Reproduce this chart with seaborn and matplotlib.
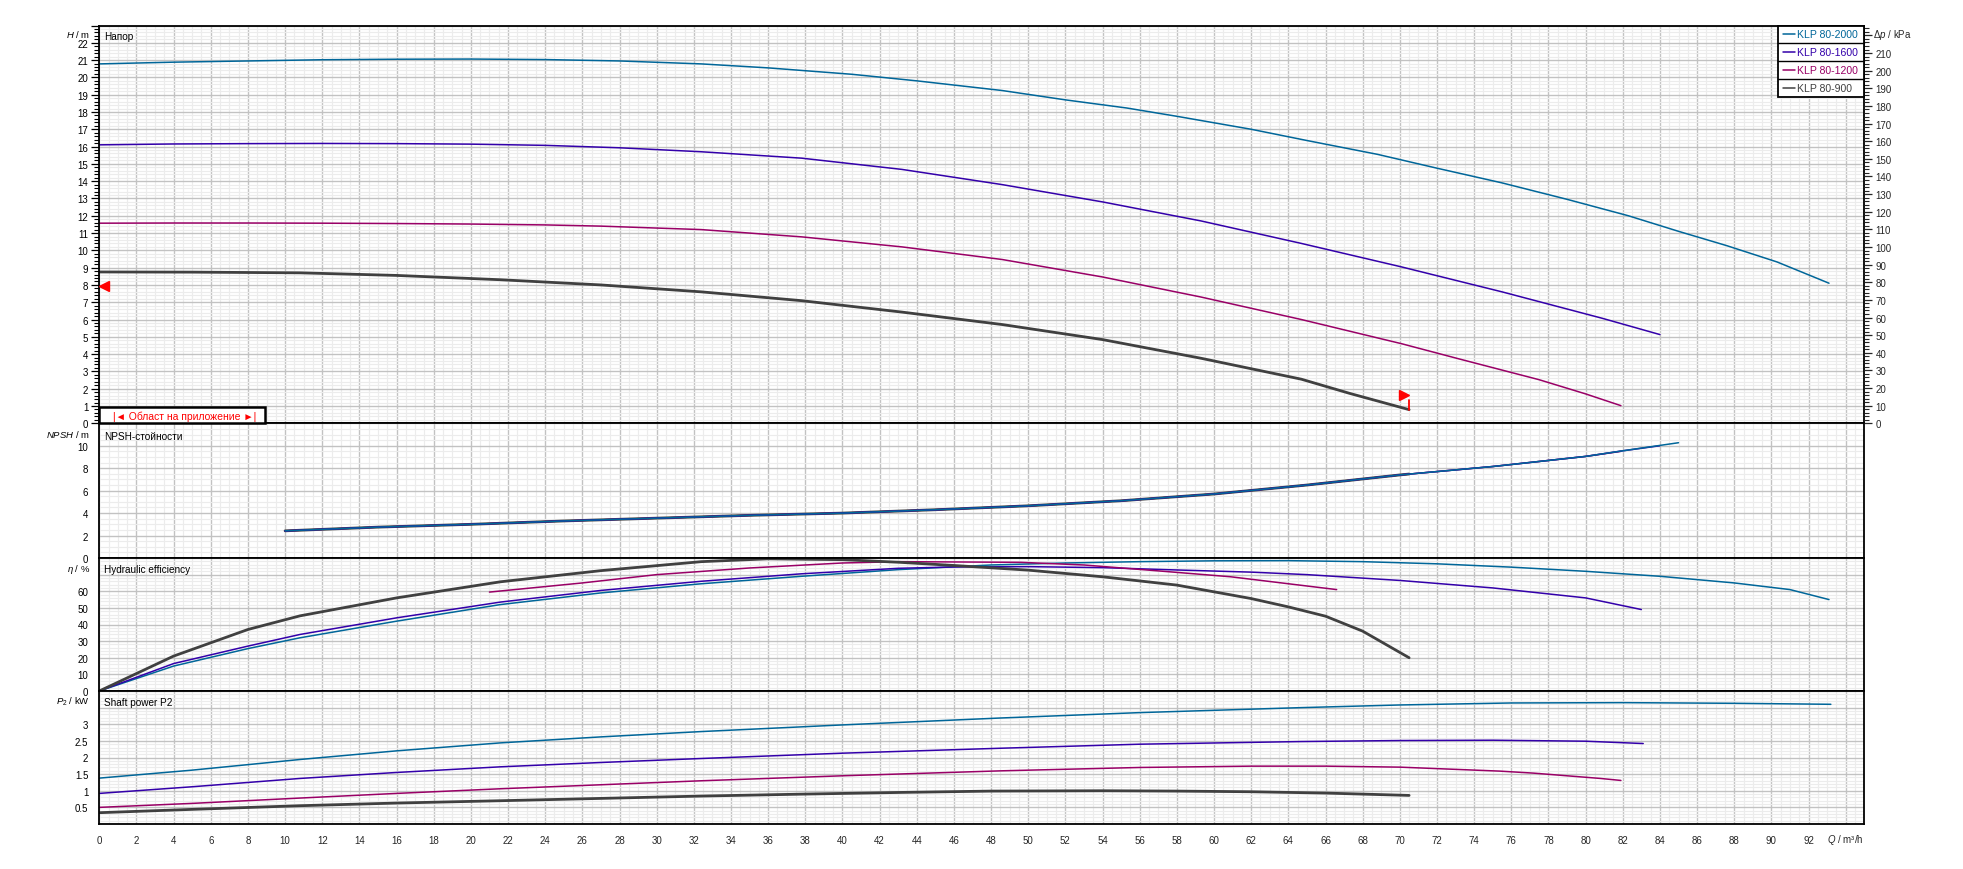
import numpy as np
import matplotlib
matplotlib.use("Agg")
import matplotlib.pyplot as plt
import seaborn as sns
from matplotlib.ticker import MultipleLocator, FuncFormatter
from matplotlib.patches import Rectangle
from matplotlib.lines import Line2D

sns.set_style("white")
plt.rcParams['font.family'] = ['Liberation Sans', 'DejaVu Sans']
plt.rcParams['mathtext.fontset'] = 'custom'
plt.rcParams['mathtext.it'] = 'Liberation Sans:italic'
plt.rcParams['mathtext.rm'] = 'Liberation Sans'

# ---------------- data ----------------
models = ["KLP 80-2000", "KLP 80-1600", "KLP 80-1200", "KLP 80-900"]
colors = ["#006699", "#3300AA", "#990066", "#404040"]
line_w = [1.1, 1.1, 1.1, 2.0]

# Head H [m]
head_q_2000 = [0, 4, 8, 12, 16, 20, 24, 28, 32.4, 36, 40.5, 44, 48.6, 52, 55.3, 58, 62, 65, 68.8, 72, 75.5, 79, 82.3, 85, 87.6, 90.3, 93.1]
head_h_2000 = [20.78, 20.88, 20.95, 21.02, 21.05, 21.06, 21.03, 20.95, 20.78, 20.55, 20.18, 19.8, 19.24, 18.7, 18.23, 17.75, 17.0, 16.35, 15.55, 14.75, 13.9, 12.95, 12.0, 11.1, 10.27, 9.33, 8.1]
head_q_1600 = [0, 4, 8, 12, 16, 20, 24, 28, 32.4, 37.8, 43.2, 48.6, 54, 59.3, 64.7, 70.1, 75.5, 80.9, 84]
head_h_1600 = [16.1, 16.15, 16.17, 16.18, 16.17, 16.14, 16.07, 15.93, 15.7, 15.33, 14.68, 13.8, 12.8, 11.7, 10.4, 9.04, 7.6, 6.07, 5.13]
head_q_1200 = [0, 4, 8, 12, 16, 20, 24, 27, 32.4, 37.8, 43.2, 48.6, 54, 59.3, 64.7, 70.1, 73.2, 77.5, 80, 81.9]
head_h_1200 = [11.57, 11.58, 11.58, 11.57, 11.55, 11.52, 11.47, 11.4, 11.2, 10.78, 10.2, 9.47, 8.46, 7.3, 6.0, 4.6, 3.72, 2.52, 1.7, 1.02]
head_q_900 = [0, 5, 10.8, 16, 21.6, 27, 32.4, 37.8, 43.2, 48.6, 54, 59.3, 64.7, 67.3, 70.5]
head_h_900 = [8.75, 8.74, 8.7, 8.55, 8.3, 8.0, 7.6, 7.09, 6.43, 5.71, 4.84, 3.76, 2.55, 1.73, 0.79]

# NPSH [m]
npsh_q_2000 = [10, 15, 20, 25, 30, 35, 40, 45, 50, 55, 60, 65, 70, 75, 80, 82, 85]
npsh_v_2000 = [2.42, 2.75, 3.0, 3.3, 3.55, 3.8, 4.0, 4.3, 4.65, 5.1, 5.7, 6.5, 7.4, 8.15, 9.05, 9.55, 10.27]
npsh_q_1600 = [10, 15, 20, 25, 30, 35, 40, 45, 50, 55, 60, 65, 70, 75, 80, 82, 84]
npsh_v_1600 = [2.42, 2.75, 3.0, 3.3, 3.55, 3.8, 4.0, 4.3, 4.65, 5.1, 5.7, 6.5, 7.4, 8.15, 9.05, 9.55, 10.0]
npsh_q_1200 = [10, 15, 20, 25, 30, 35, 40, 45, 50, 55, 60, 65, 70, 75, 80, 81.9]
npsh_v_1200 = [2.42, 2.75, 3.0, 3.3, 3.55, 3.8, 4.0, 4.3, 4.65, 5.1, 5.7, 6.5, 7.4, 8.15, 9.05, 9.5]
npsh_q_900 = [10, 15, 20, 25, 30, 35, 40, 45, 50, 55, 60, 65, 70, 70.5]
npsh_v_900 = [2.42, 2.75, 3.0, 3.3, 3.55, 3.8, 4.0, 4.3, 4.65, 5.1, 5.7, 6.5, 7.4, 7.48]

# Hydraulic efficiency [%]
eff_q_2000 = [0, 4, 8, 10.8, 16, 21.6, 27, 32.4, 37.8, 43, 48, 52, 56, 60, 64, 68, 72, 76, 80, 84, 88, 91, 93.1]
eff_v_2000 = [0, 15, 25.5, 32, 42, 52, 59, 64.5, 69, 73, 75.8, 77, 77.8, 78.3, 78.4, 77.8, 76.5, 74.5, 72, 69, 65, 61, 55]
eff_q_1600 = [0, 4, 8, 10.8, 16, 21.6, 27, 32.4, 37.8, 43, 46, 50, 54, 58, 62, 65, 70, 75, 80, 83]
eff_v_1600 = [0, 16.5, 27, 34, 44, 53.5, 60.5, 66, 70.5, 73.8, 74.6, 74.8, 74.2, 72.8, 71.5, 70, 66.5, 62, 56, 49]
eff_q_1200 = [21, 26, 30, 35, 40, 43.1, 49.6, 53, 57.5, 60.9, 64.6, 66.6]
eff_v_1200 = [59.5, 65, 70, 74, 77, 77.8, 77.4, 75.8, 71.8, 68.7, 63.7, 61]
eff_q_900 = [0, 4, 8, 10.8, 16, 21.6, 27, 32.4, 36, 40, 43.1, 46, 50, 54, 58, 62, 64, 66, 68, 70.5]
eff_v_900 = [0, 21, 37, 45.2, 56, 65.7, 72.4, 77.8, 79.5, 79, 77.4, 75.5, 72.7, 68.7, 63.7, 55.6, 50.6, 45, 36, 20]

# Shaft power P2 [kW]
pow_q_2000 = [0, 5, 10.8, 16, 21.6, 27, 32.4, 40, 48.6, 56, 64.7, 70, 76, 82, 88, 93.2]
pow_v_2000 = [1.38, 1.62, 1.94, 2.2, 2.44, 2.62, 2.78, 2.98, 3.19, 3.35, 3.5, 3.58, 3.64, 3.65, 3.63, 3.6]
pow_q_1600 = [0, 5, 10.8, 16, 21.6, 27, 32.4, 40, 48.6, 56, 64.7, 70, 75, 80, 83.1]
pow_v_1600 = [0.92, 1.12, 1.37, 1.55, 1.72, 1.85, 1.97, 2.13, 2.28, 2.4, 2.48, 2.51, 2.52, 2.49, 2.42]
pow_q_1200 = [0, 5, 10.8, 16, 21.6, 27, 32.4, 40, 48.6, 56, 62, 66, 70, 75.4, 77.2, 79, 80.8, 81.9]
pow_v_1200 = [0.5, 0.62, 0.78, 0.92, 1.06, 1.18, 1.3, 1.45, 1.6, 1.7, 1.74, 1.74, 1.71, 1.59, 1.53, 1.45, 1.37, 1.31]
pow_q_900 = [0, 5, 10.8, 16, 21.6, 27, 32.4, 38, 43.2, 48, 54, 58, 62, 66, 70.5]
pow_v_900 = [0.34, 0.44, 0.55, 0.63, 0.7, 0.77, 0.84, 0.9, 0.95, 0.99, 1.0, 0.99, 0.97, 0.93, 0.86]

# duty range markers (start / end of application range)
range_start_q, range_start_h = 0.25, 7.95
range_end_q, range_end_h = 70.5, 0.79
range_flag_q, range_flag_h = 70.25, 1.62

head_data = [(head_q_2000, head_h_2000), (head_q_1600, head_h_1600), (head_q_1200, head_h_1200), (head_q_900, head_h_900)]
npsh_data = [(npsh_q_2000, npsh_v_2000), (npsh_q_1600, npsh_v_1600), (npsh_q_1200, npsh_v_1200), (npsh_q_900, npsh_v_900)]
eff_data = [(eff_q_2000, eff_v_2000), (eff_q_1600, eff_v_1600), (eff_q_1200, eff_v_1200), (eff_q_900, eff_v_900)]
pow_data = [(pow_q_2000, pow_v_2000), (pow_q_1600, pow_v_1600), (pow_q_1200, pow_v_1200), (pow_q_900, pow_v_900)]

# ---------------- layout ----------------
W, HP = 1963, 870
fig = plt.figure(figsize=(W / 100, HP / 100), dpi=100)
fig.patch.set_facecolor("white")
LEFT, RIGHT = 99.3, 1864.3
panels = [(26.5, 424.3), (424.3, 559.0), (559.0, 692.0), (692.0, 825.0)]

def fx(px):
    return px / W

def fy(py):
    return 1 - py / HP

axes = []
for top, bot in panels:
    ax = fig.add_axes([fx(LEFT), fy(bot), fx(RIGHT - LEFT), (bot - top) / HP])
    axes.append(ax)
ax_h, ax_n, ax_e, ax_p = axes

ylims = [(0, 23), (0, 12), (0, 80), (0, 4)]
ymaj = [1, 2, 10, 0.5]
ymin = [0.2, 0.5, 2, 0.1]
ylabmax = [22, 10, 60, 3]
ylabmin = [0, 0, 0, 0.5]

for i, ax in enumerate(axes):
    ax.set_facecolor("white")
    ax.set_xlim(0, 95)
    ax.set_ylim(*ylims[i])
    ax.xaxis.set_major_locator(MultipleLocator(2))
    ax.xaxis.set_minor_locator(MultipleLocator(0.5))
    ax.yaxis.set_major_locator(MultipleLocator(ymaj[i]))
    ax.yaxis.set_minor_locator(MultipleLocator(ymin[i]))
    ax.set_axisbelow(True)
    ax.grid(which="minor", color="#ececec", lw=0.85)
    ax.grid(which="major", color="#c2c2c2", lw=1.0)
    lo, hi = ylabmin[i], ylabmax[i]
    ax.yaxis.set_major_formatter(FuncFormatter(lambda v, p, lo=lo, hi=hi: f"{v:g}" if lo - 1e-6 <= v <= hi + 1e-6 else ""))
    ax.tick_params(axis="y", which="major", direction="out", length=6, width=0.9, labelsize=7, pad=2, colors="black")
    ax.tick_params(axis="y", which="minor", direction="out", length=3.5, width=0.8, colors="black")
    ax.tick_params(axis="y", right=False)
    for s in ax.spines.values():
        s.set_color("black")
        s.set_linewidth(1.3)
    if i < 3:
        ax.tick_params(axis="x", which="both", length=0, labelbottom=False)
    else:
        ax.xaxis.set_major_formatter(FuncFormatter(lambda v, p: f"{v:g}" if v <= 92 else ""))
        ax.tick_params(axis="x", which="major", direction="out", length=5, width=0.9, labelsize=7, pad=3)
        ax.tick_params(axis="x", which="minor", direction="out", length=3, width=0.8)
    ax.set_xlabel("")
    ax.set_ylabel("")

# right axis delta p
tw = ax_h.twinx()
tw.set_ylim(0, 23 * 9.81)
tw.yaxis.set_major_locator(MultipleLocator(10))
tw.yaxis.set_minor_locator(MultipleLocator(2))
tw.yaxis.set_major_formatter(FuncFormatter(lambda v, p: f"{v:g}" if v <= 210 + 1e-6 else ""))
tw.tick_params(axis="y", which="major", direction="out", length=6, width=0.9, labelsize=7, pad=2)
tw.tick_params(axis="y", which="minor", direction="out", length=3.5, width=0.8)
tw.grid(False)
for s in tw.spines.values():
    s.set_visible(False)

# ---------------- curves ----------------
for ax, data in zip(axes, [head_data, npsh_data, eff_data, pow_data]):
    order = [3, 2, 1, 0] if ax is ax_n else [0, 1, 2, 3]
    for k in order:
        q, v = data[k]
        sns.lineplot(x=q, y=v, ax=ax, color=colors[k], lw=line_w[k], estimator=None, sort=False, legend=False)
    ax.set_xlabel("")
    ax.set_ylabel("")

# range markers
ax_h.plot([range_start_q], [range_start_h], marker="<", color="#ff0000", ms=6.5, mec="#ff0000", ls="none", zorder=5)
ax_h.plot([range_end_q, range_end_q], [range_end_h, range_flag_h - 0.25], color="#ff0000", lw=1.3, zorder=5)
ax_h.plot([range_flag_q], [range_flag_h], marker=">", color="#ff0000", ms=6.5, mec="#ff0000", ls="none", zorder=5)

# application range box
fig.patches.append(Rectangle((fx(LEFT), fy(424.3)), fx(265 - LEFT), (424.3 - 407.7) / HP,
                             transform=fig.transFigure, facecolor="white", edgecolor="black", lw=1.8, zorder=10))
fig.text(fx(185), fy(416.3), "|◄ Област на приложение ►|", color="#ff0000", fontsize=7.5,
         ha="center", va="center", zorder=11)

# panel titles
titles = ["Напор", "NPSH-стойности", "Hydraulic efficiency", "Shaft power P2"]
title_y = [36.7, 436.7, 570.0, 702.7]
for t, y in zip(titles, title_y):
    fig.text(fx(104), fy(y), t, fontsize=7.2, ha="left", va="center", color="black")

# axis quantity labels
ylabels = ["$H$ / m", "$NPSH$ / m", "$η$ / %", "$P_2$ / kW"]
ylab_y = [34.0, 434.5, 569.5, 701.5]
for t, y in zip(ylabels, ylab_y):
    fig.text(fx(90), fy(y), t, fontsize=6.8, ha="right", va="center", color="black")
fig.text(fx(1873), fy(34.5), "Δ$p$ / kPa", fontsize=7.0, ha="left", va="center")
fig.text(fx(1864), fy(840), "$Q$ / m³/h", fontsize=7.0, ha="right", va="center")

# legend
leg_x0, leg_x1 = 1778.0, 1864.3
row_edges = [26.5, 44.4, 62.3, 80.1, 97.9]
fig.patches.append(Rectangle((fx(leg_x0), fy(row_edges[-1])), fx(leg_x1 - leg_x0), (row_edges[-1] - row_edges[0]) / HP,
                             transform=fig.transFigure, facecolor="white", edgecolor="black", lw=1.3, zorder=10))
for j, name in enumerate(models):
    yc = (row_edges[j] + row_edges[j + 1]) / 2
    if j > 0:
        fig.add_artist(Line2D([fx(leg_x0), fx(leg_x1)], [fy(row_edges[j])] * 2, transform=fig.transFigure,
                              color="black", lw=1.0, zorder=11))
    fig.add_artist(Line2D([fx(1783), fx(1795)], [fy(yc)] * 2, transform=fig.transFigure,
                          color=colors[j], lw=1.1, zorder=11))
    fig.text(fx(1797), fy(yc), name, color=colors[j], fontsize=7.6, ha="left", va="center", zorder=12)

fig.savefig("out.png", dpi=100, facecolor="white")
